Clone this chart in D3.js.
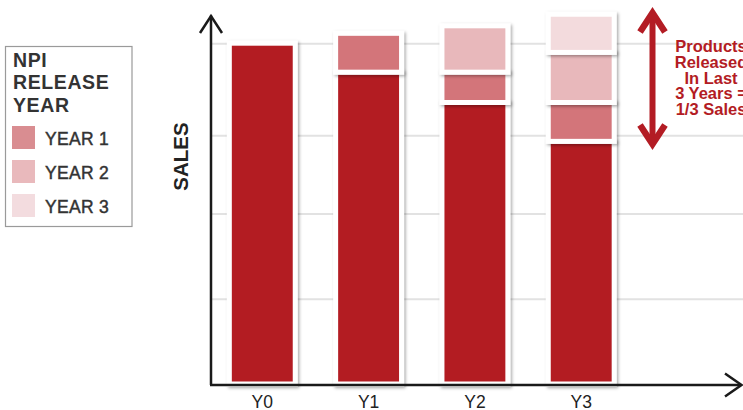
<!DOCTYPE html>
<html><head><meta charset="utf-8">
<script src="https://cdn.jsdelivr.net/npm/d3@7"></script>
<style>
html,body{margin:0;padding:0;background:#fff;}
svg{display:block;font-family:"Liberation Sans",Arial,sans-serif;}
</style></head>
<body>
<svg id="c" width="743" height="410"></svg>
<script>
// ---- data ----
const categories = ["Y0", "Y1", "Y2", "Y3"];
const seriesNames = ["Base", "YEAR 1", "YEAR 2", "YEAR 3"];
const baseSales  = [100, 91.5, 82.6, 71.2];
const year1Sales = [0, 11.4, 8.9, 11.4];
const year2Sales = [0, 0, 13.6, 14.7];
const year3Sales = [0, 0, 0, 11.2];
const gridValues = [25, 50, 73, 100];
const legendTitle = ["NPI", "RELEASE", "YEAR"];
const legendLabels = ["YEAR 1", "YEAR 2", "YEAR 3"];
const noteLines = ["Products", "Released", "In Last", "3 Years =", "1/3 Sales"];
const axisTitle = "SALES";

// ---- styles ----
const barColors = ["#b31c24", "#d3747a", "#e8b8bb", "#f3dbdd"];
const legendColors = ["#d98d91", "#e9b9bc", "#f3dcdf"];
const red = "#b31c24";

const svg = d3.select("#c");
const defs = svg.append("defs");
const f = defs.append("filter").attr("id","sh").attr("x","-20%").attr("y","-20%").attr("width","140%").attr("height","140%");
f.append("feDropShadow").attr("dx",1.5).attr("dy",1.5).attr("stdDeviation",1.6)
  .attr("flood-color","#000").attr("flood-opacity",0.35);

const x = d3.scaleBand().domain(categories).range([207, 636.5]).paddingInner(0.38).paddingOuter(0.21);
const y = d3.scaleLinear().domain([0, 100]).range([384, 43.2]);

// gridlines
const grid = svg.append("g").attr("transform","translate(211,0)")
  .call(d3.axisLeft(y).tickValues(gridValues).tickSize(-532).tickFormat(""));
grid.select(".domain").remove();
grid.selectAll(".tick line").attr("stroke","#e2e2e2").attr("stroke-width",2);

// stacked bars
const rows = categories.map((c,i)=>({cat:c, Base:baseSales[i], "YEAR 1":year1Sales[i], "YEAR 2":year2Sales[i], "YEAR 3":year3Sales[i]}));
const stack = d3.stack().keys(seriesNames)(rows);
const bars = svg.append("g");
stack.forEach((layer, li) => {
  bars.append("g").selectAll("rect").data(layer.filter(d=>d[1]-d[0]>0)).join("rect")
    .attr("x", d=>x(d.data.cat))
    .attr("width", x.bandwidth())
    .attr("y", d=>y(d[1]))
    .attr("height", d=>y(d[0])-y(d[1]))
    .attr("fill", barColors[li])
    .attr("stroke","#fff").attr("stroke-width",5)
    .attr("filter","url(#sh)");
});

// axes
const ax = svg.append("g").attr("fill","none").attr("stroke","#1a1a1a").attr("stroke-width",2.5).attr("stroke-linecap","butt");
ax.append("path").attr("d","M211,385 L211,15.5");
ax.append("path").attr("d","M200,33 L211,16 L222,33");
ax.append("path").attr("d","M210,385 L741,385");
ax.append("path").attr("d","M725,373.5 L741.5,385 L725,396.5");

// tick labels
const xa = svg.append("g").attr("transform","translate(0,384)")
  .call(d3.axisBottom(x).tickSize(0).tickPadding(0));
xa.select(".domain").remove();
xa.selectAll("text").attr("y", 23.5).attr("dy", null).attr("font-size",17.5)
  .attr("font-family","'Liberation Sans',Arial,sans-serif").attr("fill","#222");

// y title
svg.append("text").attr("transform","translate(188,156.5) rotate(-90)")
  .attr("text-anchor","middle").attr("font-size",20.5).attr("font-weight","bold")
  .attr("fill","#222").text(axisTitle);

// legend
const lg = svg.append("g");
lg.append("rect").attr("x",5.5).attr("y",46.5).attr("width",126.5).attr("height",180)
  .attr("fill","#fff").attr("stroke","#9a9a9a").attr("stroke-width",1.2);
lg.selectAll("text.t").data(legendTitle).join("text").attr("class","t")
  .attr("x",13).attr("y",(d,i)=>67+i*22.3).attr("font-size",19.5).attr("font-weight","bold")
  .attr("fill","#333").attr("letter-spacing",0.6).text(d=>d);
legendLabels.forEach((l,i)=>{
  lg.append("rect").attr("x",12).attr("y",126+i*34).attr("width",23).attr("height",23).attr("fill",legendColors[i]);
  lg.append("text").attr("x",45).attr("y",145+i*34).attr("font-size",17.5).attr("fill","#333")
    .attr("stroke","#333").attr("stroke-width",0.45)
    .attr("letter-spacing",0.3).text(l);
});

// annotation
const an = svg.append("g").attr("fill","none").attr("stroke",red).attr("stroke-width",6);
an.append("path").attr("d","M652.5,14 L652.5,143");
an.append("path").attr("d","M640,32 L652.5,13 L665,32").attr("stroke-linejoin","miter").attr("stroke-width",6.5);
an.append("path").attr("d","M640,125 L652.5,144 L665,125").attr("stroke-linejoin","miter").attr("stroke-width",6.5);
svg.append("g").selectAll("text").data(noteLines).join("text")
  .attr("x",711).attr("y",(d,i)=>52+i*15.8).attr("text-anchor","middle")
  .attr("font-size",16.5).attr("font-weight","bold").attr("fill",red).text(d=>d);
</script>
</body></html>
